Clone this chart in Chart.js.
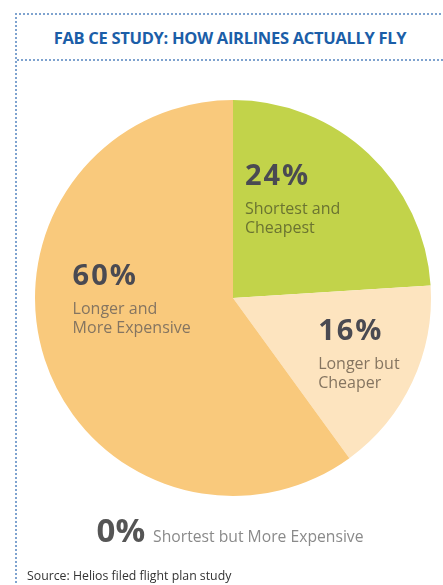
<!DOCTYPE html>
<html>
<head>
<meta charset="utf-8">
<script src="https://cdn.jsdelivr.net/npm/chart.js@4"></script>
<style>
  html, body { margin: 0; padding: 0; background: #fff; }
  body { width: 443px; height: 585px; position: relative; overflow: hidden; font-family: 'Open Sans', sans-serif; }
  #frame { position: absolute; left: 15px; top: 13px; right: -10px; bottom: -10px;
           border-left: 2px dotted #7fa3cf; border-top: 2px dotted #7fa3cf; }
  #rule { position: absolute; left: 17px; right: 0; top: 59px; border-top: 2px dotted #7fa3cf; }
  #title { position: absolute; left: 17px; right: 0; top: 26px; text-align: center;
           font-weight: 700; font-size: 16.5px; color: #1b5ea8; letter-spacing: -0.3px; }
  #source { position: absolute; left: 27px; top: 567px; font-size: 12.3px; color: #333; }
  #chartBox { position: absolute; left: 0; top: 0; width: 443px; height: 585px; }
</style>
</head>
<body>
<div id="frame"></div>
<div id="rule"></div>
<div id="title">FAB CE STUDY: HOW AIRLINES ACTUALLY FLY</div>
<div id="chartBox"><canvas id="pieChart"></canvas></div>
<div id="source">Source: Helios filed flight plan study</div>
<script>
// ============================================
// FAB CE - HOW AIRLINES ACTUALLY FLY
// ============================================

const categories = [
    ['Shortest and', 'Cheapest'],
    ['Longer but', 'Cheaper'],
    ['Longer and', 'More Expensive'],
    ['Shortest but More Expensive']
];
const shares = [24, 16, 60, 0];
const sliceColors = ['#c2d34a', '#fde4bf', '#f9c97c', '#e9b85a'];
const labelColors = ['#6b7431', '#857561', '#857561', '#8a8a8a'];

// where each label block sits, relative to the pie centre (fraction of radius)
const labelSpots = [
    { dx: 0.06, dy: -0.57 },
    { dx: 0.43, dy: 0.21 },
    { dx: -0.81, dy: -0.066 }
];

const sliceLabels = {
    id: 'sliceLabels',
    afterDatasetsDraw(chart) {
        const ctx = chart.ctx;
        const meta = chart.getDatasetMeta(0);
        const arc0 = meta.data[0];
        const cx = arc0.x, cy = arc0.y, r = arc0.outerRadius;
        ctx.save();
        ctx.textAlign = 'left';
        ctx.textBaseline = 'alphabetic';
        shares.forEach((v, i) => {
            if (v === 0) {
                // empty slice -> note underneath the pie
                const bigTxt = v + '%';
                const smallTxt = categories[i].join(' ');
                ctx.font = '700 33px "Open Sans", sans-serif';
                const w1 = ctx.measureText(bigTxt).width;
                ctx.font = '15.7px "Open Sans", sans-serif';
                const w2 = ctx.measureText(smallTxt).width;
                let x = 230 - (w1 + 8 + w2) / 2;
                const y = cy + r + 46;
                ctx.font = '700 33px "Open Sans", sans-serif';
                ctx.fillStyle = '#555555';
                ctx.fillText(bigTxt, x, y);
                ctx.font = '15.7px "Open Sans", sans-serif';
                ctx.fillStyle = labelColors[i];
                ctx.fillText(smallTxt, x + w1 + 8, y);
                return;
            }
            const spot = labelSpots[i];
            const x = cx + spot.dx * r;
            const y = cy + spot.dy * r;
            ctx.font = '700 29px "Open Sans", sans-serif';
            ctx.letterSpacing = '2px';
            ctx.fillStyle = '#4a4a52';
            ctx.fillText(v + '%', x, y);
            ctx.letterSpacing = '0px';
            ctx.font = '16px "Open Sans", sans-serif';
            ctx.fillStyle = labelColors[i];
            categories[i].forEach((line, k) => {
                ctx.fillText(line, x, y + 29 + k * 19);
            });
        });
        ctx.restore();
    }
};

new Chart(document.getElementById('pieChart'), {
    type: 'pie',
    data: {
        labels: categories.map(c => c.join(' ')),
        datasets: [{
            data: shares,
            backgroundColor: sliceColors,
            borderWidth: 0
        }]
    },
    options: {
        responsive: true,
        maintainAspectRatio: false,
        animation: false,
        layout: { padding: { left: 35, right: 12, top: 100, bottom: 89 } },
        plugins: {
            legend: { display: false },
            tooltip: { enabled: false }
        }
    },
    plugins: [sliceLabels]
});
</script>
</body>
</html>
